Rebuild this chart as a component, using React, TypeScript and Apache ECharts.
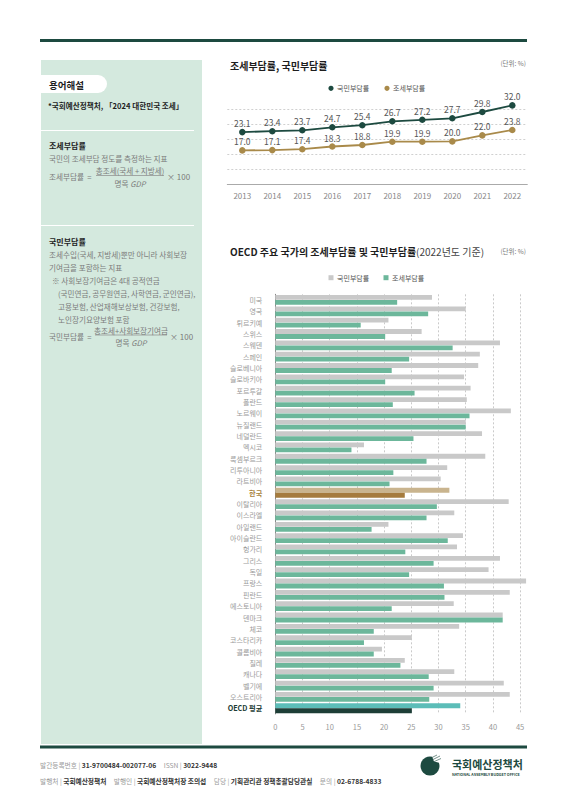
import React, { useEffect, useRef } from "react";
import * as echarts from "echarts";

const FONT = '"Noto Sans CJK KR", "Noto Sans", sans-serif';

// ---- top chart data ----
const years = ["2013", "2014", "2015", "2016", "2017", "2018", "2019", "2020", "2021", "2022"];
const nationalBurdenTrend = [23.1, 23.4, 23.7, 24.7, 25.4, 26.7, 27.2, 27.7, 29.8, 32.0];
const taxBurdenTrend = [17.0, 17.1, 17.4, 18.3, 18.8, 19.9, 19.9, 20.0, 22.0, 23.8];

// ---- OECD chart data ----
const countries = [
  "미국", "영국", "튀르키예", "스위스", "스웨덴", "스페인", "슬로베니아", "슬로바키아", "포르투갈", "폴란드",
  "노르웨이", "뉴질랜드", "네덜란드", "멕시코", "룩셈부르크", "리투아니아", "라트비아", "한국", "이탈리아", "이스라엘",
  "아일랜드", "아이슬란드", "헝가리", "그리스", "독일", "프랑스", "핀란드", "에스토니아", "덴마크", "체코",
  "코스타리카", "콜롬비아", "칠레", "캐나다", "벨기에", "오스트리아", "OECD 평균",
];
const nationalBurden = [
  28.8, 35.0, 20.8, 26.9, 41.3, 37.6, 37.3, 34.7, 35.9, 35.2,
  43.3, 35.0, 38.0, 16.3, 38.6, 31.6, 30.4, 32.0, 42.9, 32.9,
  20.8, 34.5, 33.4, 41.3, 39.2, 46.1, 43.1, 32.8, 41.8, 33.8,
  25.1, 19.6, 23.8, 32.9, 42.0, 43.1, 34.0,
];
const taxBurden = [
  22.4, 28.1, 15.7, 20.2, 32.6, 24.6, 21.4, 20.2, 25.6, 21.6,
  35.7, 35.0, 25.4, 14.0, 27.8, 21.7, 21.0, 23.8, 29.7, 27.8,
  17.7, 31.7, 23.9, 29.1, 24.6, 31.0, 31.1, 21.4, 41.8, 18.1,
  16.3, 18.1, 23.0, 28.2, 29.1, 28.3, 25.1,
];

const DARK = "#1d4a40";
const GOLD = "#a98a4a";
const GRAY_BAR = "#c9c9c9";
const GREEN_BAR = "#6cb79b";

function txt(text: string, x: number, y: number, size: number, opts: any = {}) {
  const align = opts.align || "left";
  const va = opts.va || "middle";
  return {
    type: "text",
    x,
    y,
    silent: true,
    z: 10,
    style: {
      text,
      fontSize: size,
      fontFamily: FONT,
      fontWeight: opts.bold ? "bold" : "normal",
      fontStyle: opts.italic ? "italic" : "normal",
      fill: opts.color || "#222",
      align,
      textAlign: align,
      verticalAlign: va,
      textVerticalAlign: va,
      rich: opts.rich,
    },
  };
}

function hline(x1: number, x2: number, y: number, color: string, w = 1) {
  return {
    type: "line",
    silent: true,
    z: 5,
    shape: { x1, y1: y, x2, y2: y },
    style: { stroke: color, lineWidth: w },
  };
}

function buildOption() {
  const bodyGray = "#7b7b7b";
  const BS = 7.6; // body size
  const gdpRich = {
    a: { fontSize: BS, fontFamily: FONT, fill: bodyGray, color: bodyGray },
    i: { fontSize: BS, fontFamily: FONT, fontStyle: "italic", fill: bodyGray, color: bodyGray },
  };
  const footRich = {
    l: { fontSize: 6.7, fontFamily: FONT, fill: "#999", color: "#999" },
    b: { fontSize: 6.7, fontFamily: FONT, fontWeight: "bold", fill: "#333", color: "#333" },
  };
  const graphics: any[] = [
    // header line
    { type: "rect", silent: true, shape: { x: 40, y: 39, width: 487, height: 3 }, style: { fill: DARK } },
    // left panel
    { type: "rect", silent: true, shape: { x: 41, y: 60, width: 161, height: 684 }, style: { fill: "#d4e9de" } },
    { type: "rect", silent: true, z: 4, shape: { x: 41, y: 75, width: 66, height: 18, r: [0, 9, 9, 0] }, style: { fill: "#ffffff" } },
    txt("용어해설", 49, 84.5, 9.5, { bold: true, color: "#1e1e1e" }),
    txt("*국회예산정책처, 「2024 대한민국 조세」", 48, 105, 7.6, { bold: true, color: "#1e1e1e" }),
    hline(41, 194, 130.5, "#ffffff", 1),
    txt("조세부담률", 49, 145.5, 8, { bold: true, color: "#1e1e1e" }),
    txt("국민의 조세부담 정도를 측정하는 지표", 49, 158, BS, { color: bodyGray }),
    txt("조세부담률  =", 49, 176.5, BS, { color: bodyGray }),
    txt("총조세(국세 + 지방세)", 130, 170.5, BS, { color: bodyGray, align: "center" }),
    hline(96, 164, 175.5, "#8a8a8a", 0.7),
    txt("{a|명목 }{i|GDP}", 130, 183, BS, { color: bodyGray, align: "center", rich: gdpRich }),
    txt("× 100", 167, 176.5, 8, { color: bodyGray }),
    hline(41, 194, 225.5, "#ffffff", 1),
    txt("국민부담률", 49, 241, 8, { bold: true, color: "#1e1e1e" }),
    txt("조세수입(국세, 지방세)뿐만 아니라 사회보장", 49, 254, BS, { color: bodyGray }),
    txt("기여금을 포함하는 지표", 49, 267, BS, { color: bodyGray }),
    txt("※ 사회보장기여금은 4대 공적연금", 52, 280, BS, { color: bodyGray }),
    txt("(국민연금, 공무원연금, 사학연금, 군인연금),", 58, 293, BS, { color: bodyGray }),
    txt("고용보험, 산업재해보상보험, 건강보험,", 58, 306, BS, { color: bodyGray }),
    txt("노인장기요양보험 포함", 58, 319, BS, { color: bodyGray }),
    txt("국민부담률  =", 49, 336.5, BS, { color: bodyGray }),
    txt("총조세+사회보장기여금", 131, 330, BS, { color: bodyGray, align: "center" }),
    hline(95, 167, 335, "#8a8a8a", 0.7),
    txt("{a|명목 }{i|GDP}", 131, 342.5, BS, { color: bodyGray, align: "center", rich: gdpRich }),
    txt("× 100", 170, 336.5, 8, { color: bodyGray }),

    // top chart title & legend
    txt("조세부담률, 국민부담률", 230, 65, 10, { bold: true, color: "#1e1e1e" }),
    txt("(단위: %)", 526, 62.5, 6.5, { color: "#777", align: "right" }),
    { type: "circle", silent: true, shape: { cx: 331, cy: 88.3, r: 2.6 }, style: { fill: DARK } },
    txt("국민부담률", 337, 88.3, 7, { color: "#555" }),
    { type: "circle", silent: true, shape: { cx: 387, cy: 88.3, r: 2.6 }, style: { fill: GOLD } },
    txt("조세부담률", 393, 88.3, 7, { color: "#555" }),

    // OECD title & legend
    txt("{b|OECD 주요 국가의 조세부담률 및 국민부담률}{n|(2022년도 기준)}", 230, 251, 10, {
      color: "#1e1e1e",
      rich: {
        b: { fontSize: 10, fontFamily: FONT, fontWeight: "bold", fill: "#1e1e1e", color: "#1e1e1e" },
        n: { fontSize: 10, fontFamily: FONT, fontWeight: "normal", fill: "#444", color: "#444" },
      },
    }),
    txt("(단위: %)", 526, 251, 6.5, { color: "#777", align: "right" }),
    { type: "rect", silent: true, shape: { x: 328.5, y: 275.2, width: 5, height: 5 }, style: { fill: GRAY_BAR } },
    txt("국민부담률", 337, 277.7, 7, { color: "#555" }),
    { type: "rect", silent: true, shape: { x: 383.5, y: 275.2, width: 5, height: 5 }, style: { fill: GREEN_BAR } },
    txt("조세부담률", 392, 277.7, 7, { color: "#555" }),

    // footer
    { type: "rect", silent: true, shape: { x: 40, y: 745.5, width: 487, height: 3 }, style: { fill: DARK } },
    txt("{l|발간등록번호 | }{b|31-9700484-002077-06}{l|     ISSN | }{b|3022-9448}", 40, 765, 6.7, { rich: footRich }),
    txt(
      "{l|발행처 | }{b|국회예산정책처}{l|     발행인 | }{b|국회예산정책처장 조의섭}{l|     담당 | }{b|기획관리관 정책총괄담당관실}{l|     문의 | }{b|02-6788-4833}",
      40,
      780.5,
      6.7,
      { rich: footRich }
    ),
    // logo
    { type: "circle", silent: true, shape: { cx: 430, cy: 766, r: 9.5 }, style: { fill: DARK } },
    { type: "sector", silent: true, shape: { cx: 434, cy: 761.5, r0: 0, r: 7.5, startAngle: -Math.PI * 0.62, endAngle: Math.PI * 0.08 }, style: { fill: "#ffffff" } },
    { type: "line", silent: true, shape: { x1: 429, y1: 759, x2: 437, y2: 755 }, style: { stroke: DARK, lineWidth: 0.6 } },
    { type: "line", silent: true, shape: { x1: 430, y1: 761, x2: 440, y2: 756 }, style: { stroke: DARK, lineWidth: 0.6 } },
    { type: "line", silent: true, shape: { x1: 431, y1: 763, x2: 441, y2: 758.5 }, style: { stroke: DARK, lineWidth: 0.6 } },
    txt("국회예산정책처", 452, 763.5, 11, { bold: true, color: DARK }),
    txt("NATIONAL ASSEMBLY BUDGET OFFICE", 452, 774.5, 3.7, { bold: true, color: DARK }),
  ];

  const barNational = nationalBurden.map((v, i) => {
    const c = countries[i];
    if (c === "한국") return { value: v, itemStyle: { color: "#c9b48e" } };
    if (c === "OECD 평균") return { value: v, itemStyle: { color: "#5cbdb8" } };
    return v;
  });
  const barTax = taxBurden.map((v, i) => {
    const c = countries[i];
    if (c === "한국") return { value: v, itemStyle: { color: "#a57b3d" } };
    if (c === "OECD 평균") return { value: v, itemStyle: { color: "#1d3e37" } };
    return v;
  });

  const lineLabel = {
    show: true,
    position: "top",
    distance: 1.5,
    color: "#555",
    fontSize: 8.5,
    fontFamily: FONT,
    formatter: (p: any) => Number(p.value).toFixed(1),
  };

  return {
    animation: false,
    backgroundColor: "#ffffff",
    textStyle: { fontFamily: FONT },
    graphic: { elements: graphics },
    grid: [
      { left: 227.3, top: 109.3, width: 300, height: 75, containLabel: false },
      { left: 275.3, top: 294.3, width: 244.8, height: 419.6, containLabel: false },
    ],
    xAxis: [
      {
        gridIndex: 0,
        type: "category",
        data: years,
        boundaryGap: true,
        axisLine: { lineStyle: { color: "#aaaaaa", width: 1 } },
        axisTick: { show: false },
        axisLabel: { color: "#888", fontSize: 8, margin: 7, fontFamily: FONT },
        splitLine: { show: false },
      },
      {
        gridIndex: 1,
        type: "value",
        min: 0,
        max: 45,
        interval: 5,
        axisLine: { show: false },
        axisTick: { show: false },
        axisLabel: { color: "#999", fontSize: 7.5, margin: 8.5, fontFamily: FONT },
        splitLine: { show: true, lineStyle: { color: "#bdbdbd", type: [2, 2], width: 0.8 } },
      },
    ],
    yAxis: [
      {
        gridIndex: 0,
        type: "value",
        min: 5.7,
        max: 30.7,
        interval: 5,
        axisLine: { show: false },
        axisTick: { show: false },
        axisLabel: { show: false },
        splitLine: { show: true, lineStyle: { color: "#c4c4c4", type: [2, 2], width: 0.8 } },
      },
      {
        gridIndex: 1,
        type: "category",
        data: countries,
        inverse: true,
        axisLine: { show: true, lineStyle: { color: "#8a8a8a", width: 1 } },
        axisTick: { show: false },
        axisLabel: {
          color: "#9a9a9a",
          fontSize: 7,
          margin: 13,
          fontFamily: FONT,
          formatter: (v: string) => (v === "한국" ? `{k|${v}}` : v === "OECD 평균" ? `{o|${v}}` : v),
          rich: {
            k: { color: "#a8843f", fontWeight: "bold", fontSize: 7.2, fontFamily: FONT },
            o: { color: "#1d3d36", fontWeight: "bold", fontSize: 7.2, fontFamily: FONT },
          },
        },
        splitLine: { show: false },
      },
    ],
    series: [
      {
        name: "국민부담률",
        type: "line",
        xAxisIndex: 0,
        yAxisIndex: 0,
        data: nationalBurdenTrend,
        clip: false,
        symbol: "circle",
        symbolSize: 6.5,
        itemStyle: { color: DARK },
        lineStyle: { color: DARK, width: 1.8 },
        label: lineLabel,
        z: 3,
      },
      {
        name: "조세부담률",
        type: "line",
        xAxisIndex: 0,
        yAxisIndex: 0,
        data: taxBurdenTrend,
        clip: false,
        symbol: "circle",
        symbolSize: 6.5,
        itemStyle: { color: GOLD },
        lineStyle: { color: GOLD, width: 1.8 },
        label: lineLabel,
        z: 3,
      },
      {
        name: "국민부담률",
        type: "bar",
        xAxisIndex: 1,
        yAxisIndex: 1,
        data: barNational,
        clip: false,
        barWidth: 4.8,
        barGap: "4%",
        itemStyle: { color: GRAY_BAR },
        z: 3,
      },
      {
        name: "조세부담률",
        type: "bar",
        xAxisIndex: 1,
        yAxisIndex: 1,
        data: barTax,
        clip: false,
        barWidth: 4.8,
        barGap: "4%",
        itemStyle: { color: GREEN_BAR },
        z: 3,
      },
    ],
  };
}

export default function App() {
  const ref = useRef<HTMLDivElement>(null);
  useEffect(() => {
    if (!ref.current) return;
    const chart = echarts.init(ref.current, null, { renderer: "svg" });
    chart.setOption(buildOption() as any);
    return () => chart.dispose();
  }, []);
  return (
    <div
      ref={ref}
      style={{ position: "absolute", left: 0, top: 0, width: 566, height: 800, background: "#ffffff" }}
    />
  );
}
